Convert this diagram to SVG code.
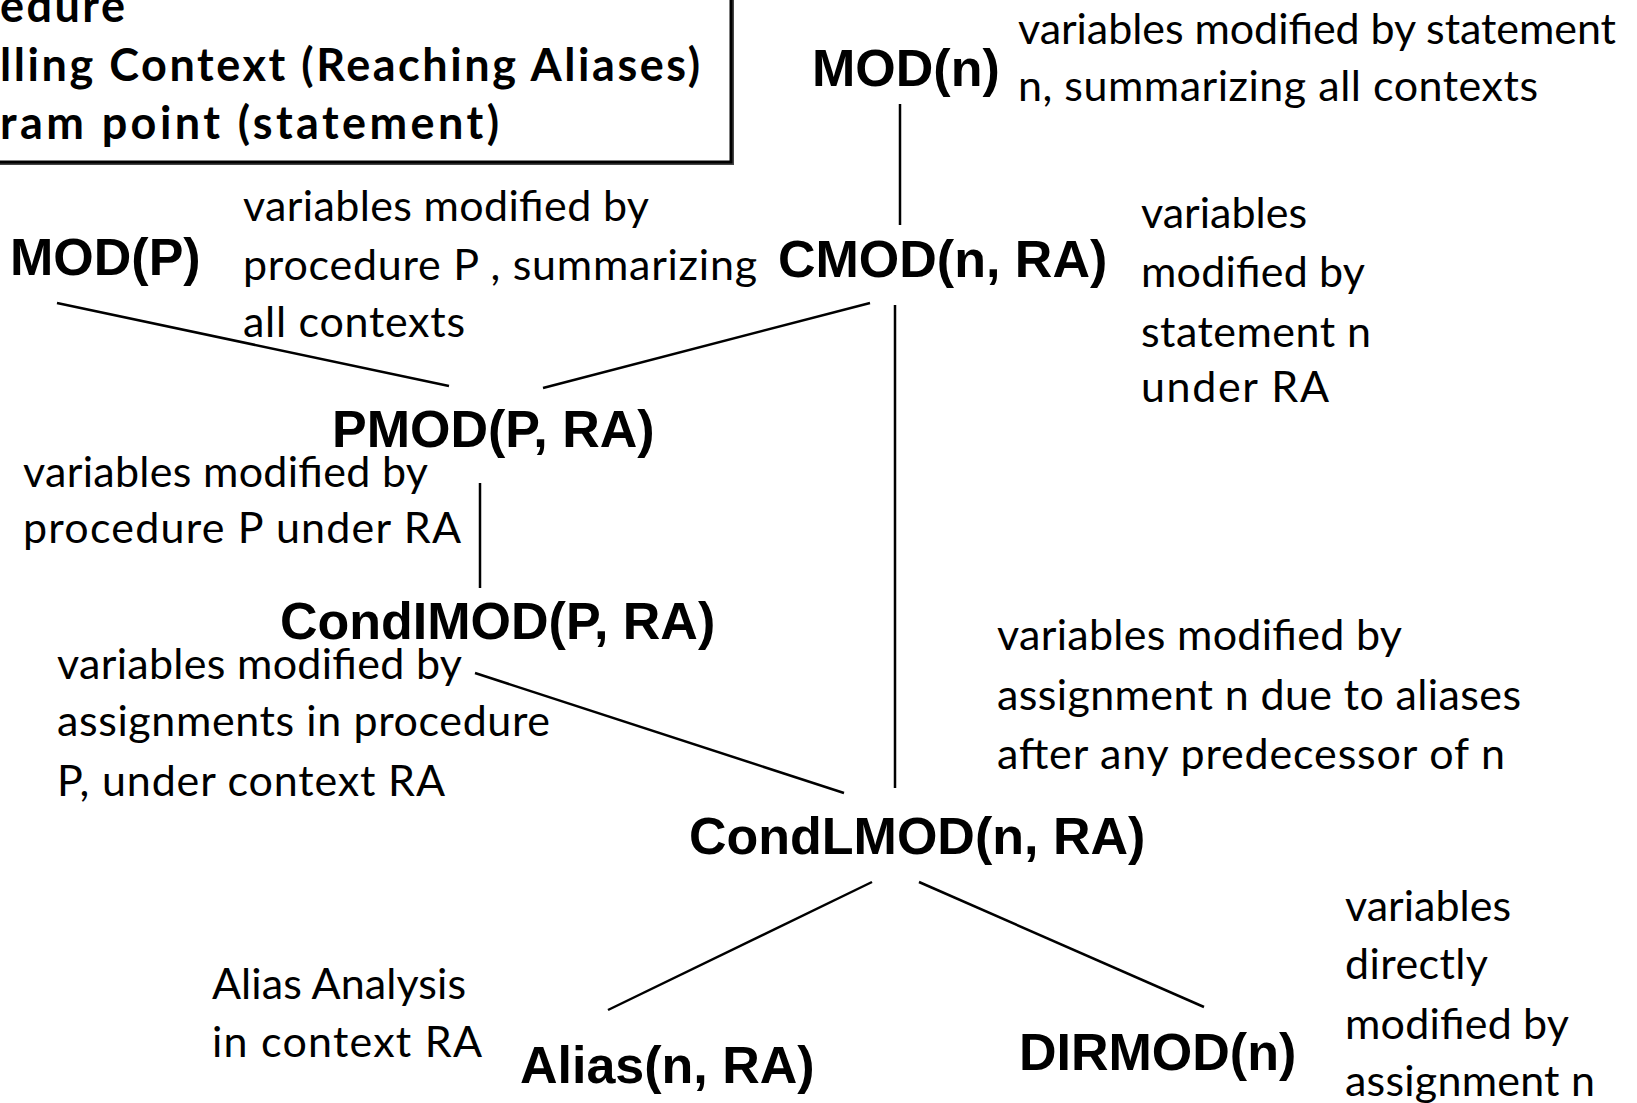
<svg xmlns="http://www.w3.org/2000/svg" width="1637" height="1103" viewBox="0 0 1637 1103">
<style>
.node{font-family:"Liberation Sans",Arial,sans-serif;font-weight:700;font-size:52px;fill:#000}
.desc{font-family:Lato,"Open Sans",sans-serif;font-size:43px;fill:#000}
.key{font-family:Lato,"Open Sans",sans-serif;font-weight:700;font-size:45px;fill:#000}
.edge{stroke:#000;stroke-width:2.5;fill:none}
</style>
<rect width="1637" height="1103" fill="#fff"/>
<g id="legend">
<rect x="-10" y="-10" width="744" height="175" fill="#444"/>
<rect x="-10" y="-10" width="741" height="172" fill="#fff" stroke="#000" stroke-width="3"/>
<text class="key" x="0" y="22" textLength="125">edure</text>
<text class="key" x="0" y="81" textLength="700">lling Context (Reaching Aliases)</text>
<text class="key" x="0" y="139" textLength="499">ram point (statement)</text>
</g>
<g id="connectors">
<line class="edge" x1="900" y1="104" x2="900" y2="225"/>
<line class="edge" x1="895" y1="305" x2="895" y2="788"/>
<line class="edge" x1="870" y1="303" x2="543" y2="388"/>
<line class="edge" x1="57" y1="303" x2="449" y2="386"/>
<line class="edge" x1="480" y1="483" x2="480" y2="588"/>
<line class="edge" x1="475" y1="673" x2="844" y2="793"/>
<line class="edge" x1="872" y1="882" x2="608" y2="1010"/>
<line class="edge" x1="919" y1="882" x2="1204" y2="1007"/>
</g>
<g id="mod-n">
<text class="node" x="812" y="86">MOD(n)</text>
<text class="desc" x="1018" y="44" textLength="598">variables modified by statement</text>
<text class="desc" x="1018" y="101" textLength="520">n, summarizing all contexts</text>
</g>
<g id="cmod">
<text class="node" x="778" y="277">CMOD(n, RA)</text>
<text class="desc" x="1141" y="228" textLength="166">variables</text>
<text class="desc" x="1141" y="287" textLength="224">modified by</text>
<text class="desc" x="1141" y="347" textLength="230">statement n</text>
<text class="desc" x="1141" y="402" textLength="188">under RA</text>
</g>
<g id="mod-p">
<text class="node" x="10" y="275">MOD(P)</text>
<text class="desc" x="243" y="221" textLength="406">variables modified by</text>
<text class="desc" x="243" y="280" textLength="514">procedure P , summarizing</text>
<text class="desc" x="243" y="337" textLength="222">all contexts</text>
</g>
<g id="pmod">
<text class="node" x="332" y="447">PMOD(P, RA)</text>
<text class="desc" x="23" y="487" textLength="405">variables modified by</text>
<text class="desc" x="23" y="543" textLength="438">procedure P under RA</text>
</g>
<g id="condimod">
<text class="node" x="280" y="639">CondIMOD(P, RA)</text>
<text class="desc" x="57" y="679" textLength="405">variables modified by</text>
<text class="desc" x="57" y="736" textLength="493">assignments in procedure</text>
<text class="desc" x="57" y="796" textLength="388">P, under context RA</text>
</g>
<g id="condlmod">
<text class="node" x="689" y="854">CondLMOD(n, RA)</text>
<text class="desc" x="997" y="650" textLength="405">variables modified by</text>
<text class="desc" x="997" y="710" textLength="524">assignment n due to aliases</text>
<text class="desc" x="997" y="769" textLength="508">after any predecessor of n</text>
</g>
<g id="alias">
<text class="node" x="520" y="1083">Alias(n, RA)</text>
<text class="desc" x="212" y="999" textLength="254">Alias Analysis</text>
<text class="desc" x="212" y="1057" textLength="270">in context RA</text>
</g>
<g id="dirmod">
<text class="node" x="1019" y="1070">DIRMOD(n)</text>
<text class="desc" x="1345" y="921" textLength="166">variables</text>
<text class="desc" x="1345" y="979" textLength="143">directly</text>
<text class="desc" x="1345" y="1039" textLength="224">modified by</text>
<text class="desc" x="1345" y="1096" textLength="250">assignment n</text>
</g>
</svg>
